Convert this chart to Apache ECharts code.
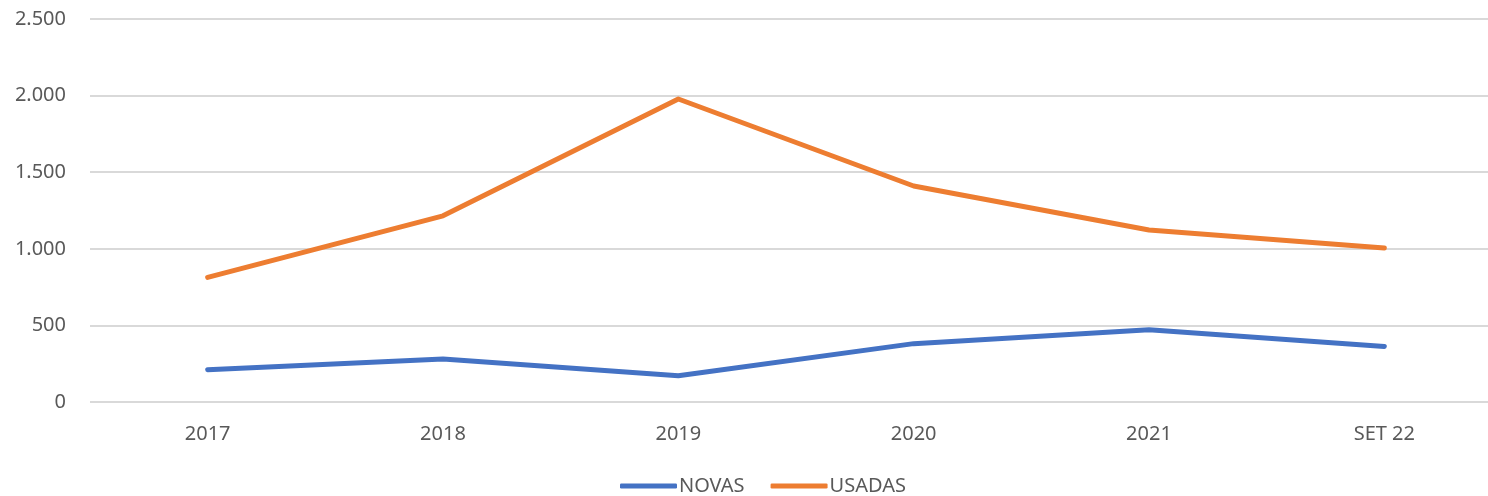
<!DOCTYPE html>
<html>
<head>
<meta charset="utf-8">
<script src="https://cdn.jsdelivr.net/npm/echarts@6/dist/echarts.min.js"></script>
<style>
  html, body { margin: 0; padding: 0; background: #fff; overflow: hidden; }
  /* a little wider than the window: the plot area runs past the right edge */
  #chart { width: 1502px; height: 496px; }
</style>
</head>
<body>
<div id="chart"></div>
<script>
// Categories and series values
const categories = ['2017', '2018', '2019', '2020', '2021', 'SET 22'];
const novas = [211, 281, 172, 381, 472, 363];
const usadas = [813, 1215, 1978, 1410, 1123, 1005];

const FONT = '"Noto Sans", "Open Sans", sans-serif';
const TEXT_COLOR = '#595959';

const chart = echarts.init(document.getElementById('chart'));

chart.setOption({
    animation: false,
    textStyle: { fontFamily: FONT, color: TEXT_COLOR },
    grid: { left: 90, right: 0, top: 19, bottom: 94 },
    legend: {
        bottom: 0,
        left: 620,
        padding: 0,
        icon: 'roundRect',
        itemWidth: 57,
        itemHeight: 5,
        itemGap: 26,
        textStyle: { fontSize: 20, color: TEXT_COLOR, fontFamily: FONT, padding: [0, 0, 0, -3] },
        data: ['NOVAS', 'USADAS']
    },
    xAxis: {
        type: 'category',
        data: categories,
        boundaryGap: true,
        axisLine: { show: false },
        axisTick: { show: false },
        axisLabel: { fontSize: 20, color: TEXT_COLOR, margin: 22 }
    },
    yAxis: {
        type: 'value',
        min: 0,
        max: 2500,
        interval: 500,
        axisLine: { show: false },
        axisTick: { show: false },
        axisLabel: {
            fontSize: 20,
            color: TEXT_COLOR,
            margin: 24,
            formatter: v => v.toLocaleString('pt-BR')
        },
        splitLine: { lineStyle: { color: '#d9d9d9', width: 2 } }
    },
    series: [
        {
            name: 'NOVAS',
            type: 'line',
            data: novas,
            symbol: 'none',
            color: '#4472C4',
            lineStyle: { width: 5, cap: 'round', join: 'round' }
        },
        {
            name: 'USADAS',
            type: 'line',
            data: usadas,
            symbol: 'none',
            color: '#ED7D31',
            lineStyle: { width: 5, cap: 'round', join: 'round' }
        }
    ]
});
</script>
</body>
</html>
